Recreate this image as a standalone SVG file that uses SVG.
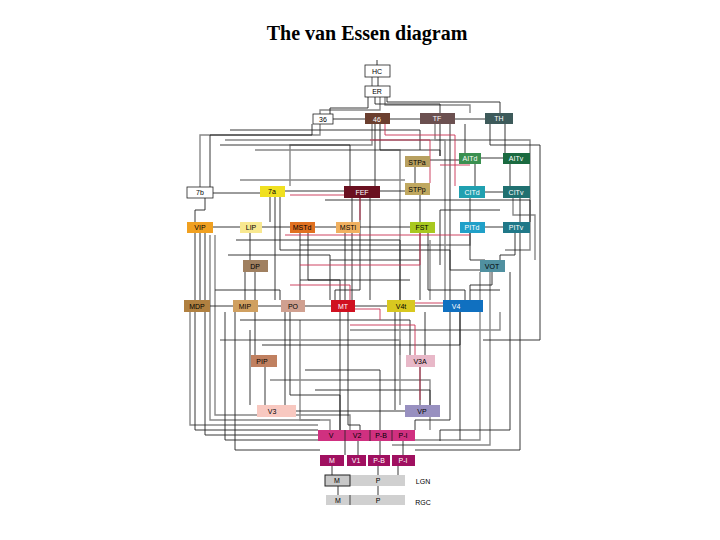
<svg xmlns="http://www.w3.org/2000/svg" width="720" height="540" viewBox="0 0 720 540">
<style>
text{font-family:"Liberation Sans",Arial,sans-serif;font-size:7px;text-anchor:middle;dominant-baseline:central}
.t{font-family:"Liberation Serif","Times New Roman",serif;font-size:20px;font-weight:bold}
.w{fill:#fff;stroke:#222;stroke-width:0.8}
.wt{fill:#fff}
.k path{fill:none;stroke:#222;stroke-width:0.9}
.g path{fill:none;stroke:#888;stroke-width:1.4}
.r path{fill:none;stroke:#c83050;stroke-width:0.9}
</style>
<rect width="720" height="540" fill="#fff"/>
<text class="t" x="367" y="33">The van Essen diagram</text>
<g id="connectors">
<g class="g">
<path d="M372 77V87M385 97V105H470V113"/>
<path d="M320 124V135H200V187"/>
<path d="M372 124V145H290V186"/>
<path d="M435 124V140H530V250H505"/>
<path d="M380 97V110H320V114"/>
<path d="M225 140H445V300"/>
<path d="M255 150H400V405"/>
<path d="M210 235V420H330V430"/>
<path d="M215 235V415H350V430"/>
<path d="M480 272V440H415"/>
<path d="M490 272V445H392"/>
<path d="M300 245H470V222"/>
<path d="M240 180H405"/>
<path d="M513 198V215H535V260"/>
<path d="M220 340H400V355"/>
<path d="M300 320V420H320"/>
<path d="M270 380H430V430"/>
<path d="M430 240V300"/>
<path d="M190 312V425H318"/>
<path d="M350 330H500V312"/>
</g>
<g class="k">
<path d="M377 65V60M378 77V87"/>
<path d="M368 97V108H330V114"/>
<path d="M375 97V104H440V113"/>
<path d="M387 97V102H500V113"/>
<path d="M333 119H365"/>
<path d="M390 119H420"/>
<path d="M455 119H485"/>
<path d="M213 193H260"/>
<path d="M285 191H344"/>
<path d="M380 191H405"/>
<path d="M430 160H459"/>
<path d="M480 158H503"/>
<path d="M485 192H503"/>
<path d="M485 227H503"/>
<path d="M213 227H240"/>
<path d="M262 227H290"/>
<path d="M315 227H336"/>
<path d="M360 227H410"/>
<path d="M210 306H233"/>
<path d="M258 306H281"/>
<path d="M355 306H387"/>
<path d="M415 306H443"/>
<path d="M305 306H331"/>
<path d="M296 411H405"/>
<path d="M345 441V455"/>
<path d="M358 441V455"/>
<path d="M380 441V455"/>
<path d="M403 441V455"/>
<path d="M332 466V475"/>
<path d="M378 466V475"/>
<path d="M398 466V475"/>
<path d="M338 486V495"/>
<path d="M378 486V495"/>
<path d="M205 198V210H195V222"/>
<path d="M200 233V300"/>
<path d="M195 233V430H318"/>
<path d="M205 233V435H318"/>
<path d="M250 233V260"/>
<path d="M245 272V300"/>
<path d="M255 272V355"/>
<path d="M265 367V405"/>
<path d="M285 312V405"/>
<path d="M290 312V395H340V430"/>
<path d="M340 312V430"/>
<path d="M348 312V425H360V430"/>
<path d="M352 198V300"/>
<path d="M360 198V290H335V300"/>
<path d="M370 198V300"/>
<path d="M300 233V300"/>
<path d="M308 233V280H340V300"/>
<path d="M345 233V300"/>
<path d="M420 233V300"/>
<path d="M428 233V290H465V300"/>
<path d="M395 312V410"/>
<path d="M420 367V405"/>
<path d="M425 312V355"/>
<path d="M450 312V420H415V430"/>
<path d="M460 312V440"/>
<path d="M470 233V260H485"/>
<path d="M492 272V285H470V300"/>
<path d="M515 233V255H500V260"/>
<path d="M520 198V222"/>
<path d="M470 198V222"/>
<path d="M475 164V186"/>
<path d="M510 164V186"/>
<path d="M465 124V153"/>
<path d="M505 124V153"/>
<path d="M440 124V156"/>
<path d="M415 167V183"/>
<path d="M420 195V222"/>
<path d="M375 124V186"/>
<path d="M380 124V150H440V156"/>
<path d="M270 197V222"/>
<path d="M275 197V300"/>
<path d="M280 197V250H450V300"/>
<path d="M230 130H420V150"/>
<path d="M220 145H350V186"/>
<path d="M450 124V270H480"/>
<path d="M490 124V145H540V340H483"/>
<path d="M312 124V135H210V187"/>
<path d="M236 240H400V300"/>
<path d="M228 255H330V300"/>
<path d="M215 290H280V300"/>
<path d="M240 320H410V355"/>
<path d="M250 330V405"/>
<path d="M262 345H460V312"/>
<path d="M305 370H380V430"/>
<path d="M315 390H430V411"/>
<path d="M225 312V440H318"/>
<path d="M235 312V450H320"/>
<path d="M520 233V450H415"/>
<path d="M510 272V430H440V441"/>
<path d="M500 290H470"/>
<path d="M325 200H530V222"/>
<path d="M330 260H420"/>
<path d="M410 280H300"/>
<path d="M440 265V210H500"/>
</g>
<g class="r">
<path d="M380 119H385V135H455V186"/>
<path d="M360 198V220"/>
<path d="M285 235H470"/>
<path d="M355 309H380V320"/>
<path d="M415 303H443"/>
<path d="M300 265H420V230"/>
<path d="M350 325H415V355"/>
<path d="M420 367V400"/>
<path d="M290 195H344"/>
<path d="M370 140H430V183"/>
<path d="M440 165H470"/>
<path d="M290 285H350V300"/>
</g>
</g>
<g id="HC"><rect class="w" x="365" y="65" width="25" height="12"/><text x="377" y="71">HC</text></g>
<g id="ER"><rect class="w" x="365" y="86" width="25" height="11"/><text x="377" y="91">ER</text></g>
<g id="n36"><rect class="w" x="313" y="114" width="20" height="10"/><text x="323" y="119">36</text></g>
<g id="n46"><rect x="365" y="113" width="25" height="11" fill="#6b3f2f"/><text class="wt" x="377" y="119">46</text></g>
<g id="TF"><rect x="420" y="113" width="35" height="11" fill="#6b5050"/><text class="wt" x="437" y="118">TF</text></g>
<g id="TH"><rect x="485" y="113" width="28" height="11" fill="#3d5a5a"/><text class="wt" x="499" y="118">TH</text></g>
<g id="STPa"><rect x="405" y="156" width="25" height="11" fill="#b8a060"/><text x="417" y="162">STPa</text></g>
<g id="AITd"><rect x="459" y="153" width="22" height="11" fill="#3a9050"/><text class="wt" x="470" y="158">AITd</text></g>
<g id="AITv"><rect x="503" y="153" width="27" height="11" fill="#1a6a40"/><text class="wt" x="516" y="158">AITv</text></g>
<g id="n7b"><rect class="w" x="187" y="187" width="26" height="11"/><text x="200" y="192">7b</text></g>
<g id="n7a"><rect x="260" y="186" width="25" height="11" fill="#f0e020"/><text x="272" y="191">7a</text></g>
<g id="FEF"><rect x="344" y="186" width="36" height="12" fill="#6a1020"/><text class="wt" x="362" y="192">FEF</text></g>
<g id="STPp"><rect x="405" y="183" width="25" height="12" fill="#c0a860"/><text x="417" y="189">STPp</text></g>
<g id="CITd"><rect x="459" y="186" width="26" height="12" fill="#20a0b0"/><text class="wt" x="472" y="192">CITd</text></g>
<g id="CITv"><rect x="503" y="186" width="27" height="12" fill="#207070"/><text class="wt" x="516" y="192">CITv</text></g>
<g id="VIP"><rect x="187" y="222" width="26" height="11" fill="#f0a020"/><text x="200" y="227">VIP</text></g>
<g id="LIP"><rect x="240" y="222" width="22" height="11" fill="#f8e890"/><text x="251" y="227">LIP</text></g>
<g id="MSTd"><rect x="290" y="222" width="25" height="11" fill="#e07020"/><text x="302" y="227">MSTd</text></g>
<g id="MSTl"><rect x="336" y="222" width="24" height="11" fill="#f0b060"/><text x="348" y="227">MSTl</text></g>
<g id="FST"><rect x="410" y="222" width="25" height="11" fill="#a8c820"/><text x="422" y="227">FST</text></g>
<g id="PITd"><rect x="460" y="222" width="25" height="11" fill="#20a0c8"/><text class="wt" x="472" y="227">PITd</text></g>
<g id="PITv"><rect x="503" y="222" width="27" height="11" fill="#207888"/><text class="wt" x="516" y="227">PITv</text></g>
<g id="DP"><rect x="243" y="260" width="25" height="12" fill="#a08060"/><text x="255" y="266">DP</text></g>
<g id="VOT"><rect x="480" y="260" width="25" height="12" fill="#5090a0"/><text x="492" y="266">VOT</text></g>
<g id="MDP"><rect x="184" y="300" width="26" height="12" fill="#b08040"/><text x="197" y="306">MDP</text></g>
<g id="MIP"><rect x="233" y="300" width="25" height="12" fill="#d0a060"/><text x="245" y="306">MIP</text></g>
<g id="PO"><rect x="281" y="300" width="24" height="12" fill="#d0a090"/><text x="293" y="306">PO</text></g>
<g id="MT"><rect x="331" y="300" width="24" height="12" fill="#d01020"/><text class="wt" x="343" y="306">MT</text></g>
<g id="V4t"><rect x="387" y="300" width="28" height="12" fill="#d8c820"/><text x="401" y="306">V4t</text></g>
<g id="V4"><rect x="443" y="300" width="40" height="12" fill="#1070c0"/><text class="wt" x="456" y="306">V4</text></g>
<g id="PIP"><rect x="251" y="355" width="26" height="12" fill="#c08060"/><text x="262" y="361">PIP</text></g>
<g id="V3A"><rect x="406" y="355" width="29" height="12" fill="#e8b8c8"/><text x="420" y="361">V3A</text></g>
<g id="V3"><rect x="257" y="405" width="39" height="12" fill="#f8c8c0"/><text x="272" y="411">V3</text></g>
<g id="VP"><rect x="405" y="405" width="35" height="12" fill="#9890c0"/><text x="422" y="411">VP</text></g>
<g id="V2row"><rect x="318" y="430" width="97" height="11" fill="#d03080"/><path d="M345 430V441M370 430V441M392 430V441" stroke="#222" stroke-width="0.8"/><text x="331" y="435">V</text><text x="357" y="435">V2</text><text x="381" y="435">P-B</text><text x="403" y="435">P-I</text></g>
<g id="V1row"><rect x="320" y="455" width="24" height="11" fill="#a01060"/><rect x="347" y="455" width="19" height="11" fill="#a01060"/><rect x="368" y="455" width="22" height="11" fill="#a01060"/><rect x="392" y="455" width="23" height="11" fill="#a01060"/><text class="wt" x="332" y="460">M</text><text class="wt" x="356" y="460">V1</text><text class="wt" x="379" y="460">P-B</text><text class="wt" x="403" y="460">P-I</text></g>
<g id="LGN"><rect x="325" y="475" width="80" height="11" fill="#d0d0d0"/><rect x="325" y="475" width="25" height="11" fill="#c8c8c8" stroke="#222"/><text x="337" y="480">M</text><text x="378" y="480">P</text><text x="423" y="481">LGN</text></g>
<g id="RGC"><rect x="326" y="495" width="79" height="10" fill="#d0d0d0"/><path d="M350 495V505" stroke="#444"/><text x="338" y="500">M</text><text x="378" y="500">P</text><text x="423" y="502">RGC</text></g>
</svg>
